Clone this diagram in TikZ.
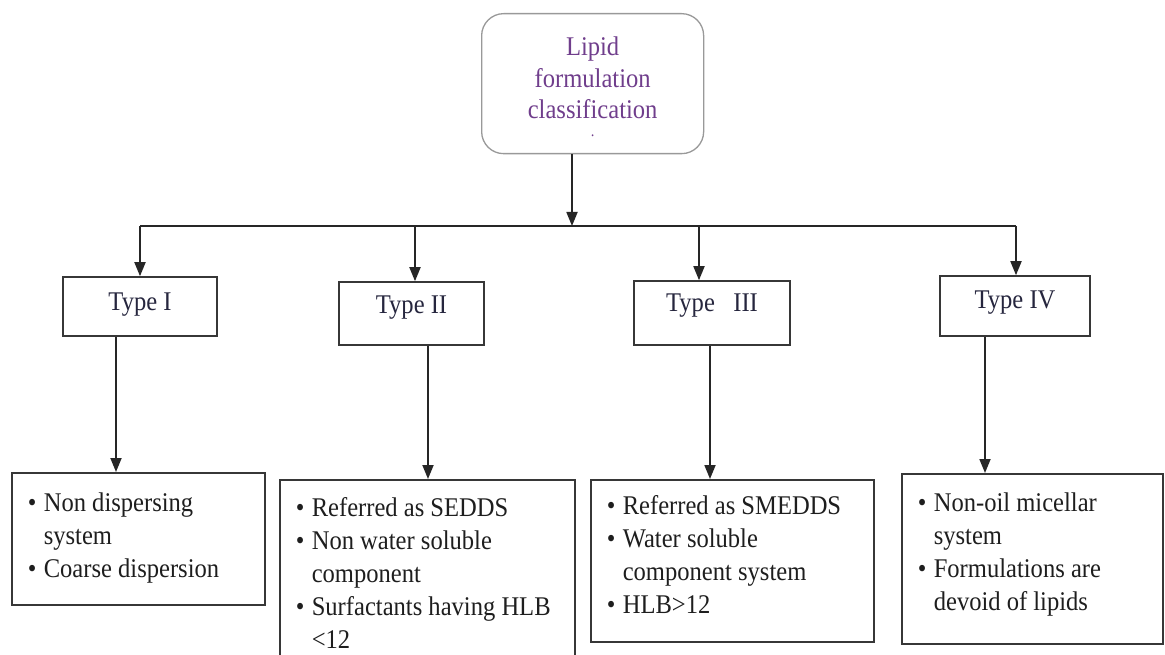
\documentclass[tikz,border=0pt]{standalone}
\usepackage{fontspec}
\setmainfont{Liberation Serif}[FakeStretch=0.91]
\usetikzlibrary{arrows.meta}
\definecolor{lipidpurple}{RGB}{112,62,140}
\definecolor{edgegray}{RGB}{55,55,55}
\definecolor{inkblue}{RGB}{38,38,62}
\definecolor{inkdark}{RGB}{30,30,30}
\newcommand{\bul}[1]{\par\noindent\hangindent=16pt\hangafter=1\makebox[16pt][l]{\textbullet}#1\par}
\newcommand{\infotext}[4]{\parbox[c][#2][t]{#1}{\vspace*{#3}\fontsize{27}{33}\selectfont\color{inkdark}\raggedright\leftskip=16pt #4}}
\begin{document}
\begin{tikzpicture}[x=1pt, y=-1pt,
    box/.style={draw=edgegray, line width=1.6pt, inner sep=0pt},
    typebox/.style={box, minimum width=#1, font=\fontsize{27}{31}\selectfont, text=inkblue},
    line/.style={line width=1.8pt, draw=black!85},
    arr/.style={line, -{Triangle[length=14pt,width=11pt]}}]
    \useasboundingbox (0,0) rectangle (1165,655);
    \fill[white] (0,0) rectangle (1165,655);
    \clip (0,0) rectangle (1165,655);
    % root
    \node[box, draw=gray!80, line width=1.3pt, rounded corners=22pt, anchor=north west] (top) at (481,13)
        {\parbox[c][140pt][t]{222pt}{\vspace*{23.5pt}\centering\fontsize{27}{31.5}\selectfont\color{lipidpurple}Lipid\\formulation\\classification\\[-13.5pt]{\fontsize{16}{16}\selectfont .}}};
    % types
    \node[typebox=154pt, text height=33pt, text depth=26pt] (tI) at (140,306.5) {Type I};
    \node[typebox=145pt, text height=31pt, text depth=32pt] (tII) at (411.5,313.5) {Type II};
    \node[typebox=156pt, text height=31pt, text depth=33pt] (tIII) at (712,313) {Type~~~III};
    \node[typebox=150pt, text height=32pt, text depth=28pt] (tIV) at (1015,306) {Type IV};
    % details
    \node[box, anchor=north west] (lI) at (11,472)
        {\infotext{253pt}{132pt}{19.5pt}{\bul{Non dispersing\newline system}\bul{Coarse dispersion}}};
    \node[box, anchor=north west] (lII) at (279,479)
        {\infotext{295pt}{190pt}{17.5pt}{\bul{Referred as SEDDS}\bul{Non water soluble\newline component}\bul{Surfactants having HLB\newline <12}}};
    \node[box, anchor=north west] (lIII) at (590,479)
        {\infotext{283pt}{162pt}{15.5pt}{\bul{Referred as SMEDDS}\bul{Water soluble\newline component system}\bul{HLB>12}}};
    \node[box, anchor=north west] (lIV) at (901,473)
        {\infotext{261pt}{170pt}{18.5pt}{\bul{Non-oil micellar\newline system}\bul{Formulations are\newline devoid of lipids}}};
    % connectors
    \coordinate (busL) at (140,226);
    \coordinate (busR) at (1016,226);
    \draw[arr] (top.south -| 572,0) -- (busL -| 572,0);
    \draw[line] (busL) -- (busR);
    \draw[arr] (busL) -- (tI.north);
    \draw[arr] (busL -| 415,0) -- (tII.north -| 415,0);
    \draw[arr] (busL -| 699,0) -- (tIII.north -| 699,0);
    \draw[arr] (busR) -- (tIV.north -| busR);
    \draw[arr] (tI.south -| 116,0) -- (lI.north -| 116,0);
    \draw[arr] (tII.south -| 428,0) -- (lII.north -| 428,0);
    \draw[arr] (tIII.south -| 710,0) -- (lIII.north -| 710,0);
    \draw[arr] (tIV.south -| 985,0) -- (lIV.north -| 985,0);
\end{tikzpicture}
\end{document}
